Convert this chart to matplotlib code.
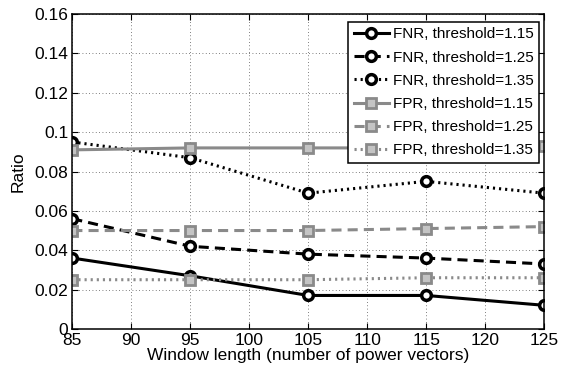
import numpy as np
import matplotlib.pyplot as plt

plt.rcParams['font.family'] = ['Liberation Sans', 'DejaVu Sans']

window = [85, 95, 105, 115, 125]
fnr_115 = [0.036, 0.027, 0.017, 0.017, 0.012]
fnr_125 = [0.056, 0.042, 0.038, 0.036, 0.033]
fnr_135 = [0.095, 0.087, 0.069, 0.075, 0.069]
fpr_115 = [0.091, 0.092, 0.092, 0.092, 0.093]
fpr_125 = [0.050, 0.050, 0.050, 0.051, 0.052]
fpr_135 = [0.025, 0.025, 0.025, 0.026, 0.026]

fig = plt.figure(figsize=(5.65, 3.82), dpi=100)
ax = fig.add_axes([0.128, 0.139, 0.835, 0.824])

black = 'black'
gray = '#8a8a8a'
dash = (3.3, 2)
dot = (0.7, 1.3)
fnr_style = dict(color=black, lw=2.2, marker='o', ms=7, mfc='white', mew=2.5)
fpr_style = dict(color=gray, lw=2.2, marker='s', ms=7.5, mfc='#c4c4c4', mew=2)

ax.plot(window, fnr_115, '-', label='FNR, threshold=1.15', **fnr_style)
ax.plot(window, fnr_125, '--', dashes=dash, label='FNR, threshold=1.25', **fnr_style)
ax.plot(window, fnr_135, ':', dashes=dot, label='FNR, threshold=1.35', **fnr_style)
ax.plot(window, fpr_115, '-', label='FPR, threshold=1.15', **fpr_style)
ax.plot(window, fpr_125, '--', dashes=dash, label='FPR, threshold=1.25', **fpr_style)
ax.plot(window, fpr_135, ':', dashes=dot, label='FPR, threshold=1.35', **fpr_style)

ax.set_xlim(85, 125)
ax.set_ylim(0, 0.16)
ax.set_xticks(np.arange(85, 126, 5))
ax.set_yticks(np.arange(0, 0.161, 0.02))
ax.set_yticklabels(['0', '0.02', '0.04', '0.06', '0.08', '0.1', '0.12', '0.14', '0.16'])
ax.tick_params(direction='in', labelsize=12.5, length=4, top=True, right=True, pad=3)
ax.grid(True, linestyle=(0, (1, 3)), color='#555555', lw=0.6)
ax.set_xlabel('Window length (number of power vectors)', fontsize=12.5, labelpad=0)
ax.set_ylabel('Ratio', fontsize=12.5, labelpad=6)
for s in ax.spines.values():
    s.set_linewidth(1.1)

leg = ax.legend(loc='upper right', fontsize=11, fancybox=False, framealpha=1,
                edgecolor='black', handlelength=2.3, borderpad=0.35, labelspacing=0.6,
                handletextpad=0.3, bbox_to_anchor=(0.99, 0.975), borderaxespad=0)
leg.get_frame().set_linewidth(1.1)

fig.savefig('out.png', dpi=100)
